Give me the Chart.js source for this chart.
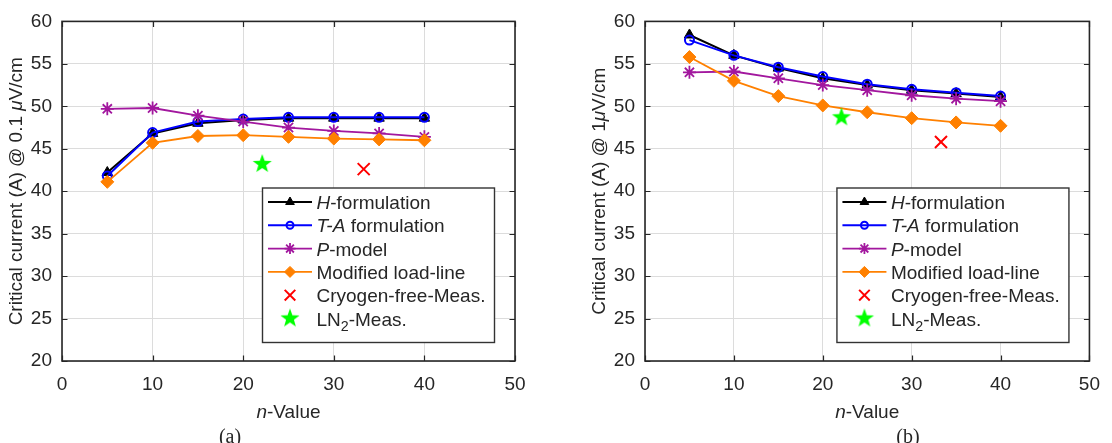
<!DOCTYPE html>
<html><head><meta charset="utf-8">
<script src="https://cdn.jsdelivr.net/npm/chart.js@4.4.0/dist/chart.umd.min.js"></script>
<style>
html,body{margin:0;padding:0;background:#fff;}
#wrap{position:relative;width:1112px;height:443px;overflow:hidden;}
canvas{position:absolute;top:0;}
</style></head><body>
<div id="wrap">
<canvas id="c1" width="556" height="443" style="left:0;width:556px;height:443px"></canvas>
<canvas id="c2" width="556" height="443" style="left:556px;width:556px;height:443px"></canvas>
</div>
<script>
// ---------- data ----------
const nValues = [5, 10, 15, 20, 25, 30, 35, 40];
const xTicks = [0, 10, 20, 30, 40, 50];
const yTicks = [20, 25, 30, 35, 40, 45, 50, 55, 60];

// (a) @ 0.1 uV/cm
const hFormA  = [42.2, 46.8, 48.0, 48.4, 48.6, 48.6, 48.6, 48.6];
const taFormA = [41.8, 46.9, 48.2, 48.5, 48.7, 48.7, 48.7, 48.7];
const pModelA = [49.7, 49.8, 48.9, 48.2, 47.5, 47.1, 46.8, 46.4];
const loadLineA = [41.1, 45.7, 46.5, 46.6, 46.4, 46.2, 46.1, 46.0];
const cryoNA = [33.3], cryoIcA = [42.6];
const ln2NA = [22.1], ln2IcA = [43.2];

// (b) @ 1 uV/cm
const hFormB  = [58.4, 56.0, 54.5, 53.3, 52.5, 51.9, 51.5, 51.1];
const taFormB = [57.8, 56.0, 54.6, 53.5, 52.6, 52.0, 51.6, 51.2];
const pModelB = [54.0, 54.1, 53.3, 52.5, 51.9, 51.3, 50.9, 50.6];
const loadLineB = [55.8, 53.0, 51.2, 50.1, 49.3, 48.6, 48.1, 47.7];
const cryoNB = [33.3], cryoIcB = [45.8];
const ln2NB = [22.1], ln2IcB = [48.7];

const legendLabels = [
  [{t:'H', i:true}, {t:'-formulation'}],
  [{t:'T-A', i:true}, {t:' formulation'}],
  [{t:'P', i:true}, {t:'-model'}],
  [{t:'Modified load-line'}],
  [{t:'Cryogen-free-Meas.'}],
  [{t:'LN'}, {t:'2', sub:true}, {t:'-Meas.'}]
];

// ---------- styling ----------
const FONT = '"Liberation Sans", Arial, Helvetica, sans-serif';
const FS = 19;
const TXT = '#262626';
const PURPLE = '#a2179e';
const ORANGE = '#ff8000';

function makeStar(R, r, color) {
  const s = Math.ceil(2 * R + 2);
  const c = document.createElement('canvas');
  c.width = s; c.height = s;
  const g = c.getContext('2d');
  g.fillStyle = color;
  g.beginPath();
  for (let i = 0; i < 10; i++) {
    const a = -Math.PI / 2 + i * Math.PI / 5;
    const rr = i % 2 ? r : R;
    g.lineTo(s / 2 + rr * Math.cos(a), s / 2 + rr * Math.sin(a));
  }
  g.closePath(); g.fill();
  return c;
}
const starImg = makeStar(10, 4.1, '#00ff00');
const starImgSmall = makeStar(10, 4.1, '#00ff00');

const styles = [
  {borderColor:'#000', backgroundColor:'#000', pointBackgroundColor:'#000', pointBorderColor:'#000',
   pointStyle:'triangle', pointRadius:6, pointBorderWidth:1, borderWidth:2, order:6, lg:{r:5}},
  {borderColor:'#0000ff', backgroundColor:'rgba(0,0,0,0)', pointBackgroundColor:'rgba(0,0,0,0)', pointBorderColor:'#0000ff',
   pointStyle:'circle', pointRadius:4.5, pointBorderWidth:2, borderWidth:2, order:5, lg:{r:3.5}},
  {borderColor:PURPLE, backgroundColor:PURPLE, pointBackgroundColor:PURPLE, pointBorderColor:PURPLE,
   pointStyle:'star', pointRadius:6.5, pointBorderWidth:1.8, borderWidth:1.8, order:4, lg:{r:5.5}},
  {borderColor:ORANGE, backgroundColor:ORANGE, pointBackgroundColor:ORANGE, pointBorderColor:ORANGE,
   pointStyle:'rectRot', pointRadius:6.5, pointBorderWidth:1, borderWidth:1.8, order:3, lg:{r:5.5}},
  {borderColor:'#ff0000', backgroundColor:'#ff0000', pointBackgroundColor:'#ff0000', pointBorderColor:'#ff0000',
   pointStyle:'crossRot', pointRadius:8.5, pointBorderWidth:2, borderWidth:0, showLine:false, order:2, lg:{r:7.5}, noLine:true},
  {borderColor:'#00ff00', backgroundColor:'#00ff00', pointBackgroundColor:'#00ff00', pointBorderColor:'#00ff00',
   pointStyle:starImg, pointRadius:10, pointBorderWidth:0, borderWidth:0, showLine:false, order:1, lg:{r:10, img:starImgSmall}, noLine:true}
];

function pts(xs, ys) { return xs.map((x, i) => ({x: x, y: ys[i]})); }

function fontStr(italic, size) { return (italic ? 'italic ' : '') + size + 'px ' + FONT; }

function richWidth(ctx, parts, size) {
  let w = 0;
  parts.forEach(p => { ctx.font = fontStr(p.i, p.sub ? size * 0.75 : size); w += ctx.measureText(p.t).width; });
  return w;
}
function drawRich(ctx, parts, x, y, size, align) {
  const w = richWidth(ctx, parts, size);
  let cx = align === 'center' ? x - w / 2 : x;
  ctx.textAlign = 'left';
  ctx.textBaseline = 'alphabetic';
  parts.forEach(p => {
    const s = p.sub ? size * 0.75 : size;
    ctx.font = fontStr(p.i, s);
    ctx.fillText(p.t, cx, y + (p.sub ? size * 0.3 : 0));
    cx += ctx.measureText(p.t).width;
  });
}

function makeDecor(cfg) {
  return {
    id: 'decor',
    afterDraw(chart) {
      const ctx = chart.ctx;
      const a = chart.chartArea;
      const xs = chart.scales.x, ys = chart.scales.y;
      ctx.save();
      ctx.fillStyle = TXT;
      ctx.strokeStyle = TXT;
      // inward ticks
      ctx.lineWidth = 1.2;
      const TL = 5.5;
      ctx.beginPath();
      xTicks.forEach(v => {
        const px = Math.round(xs.getPixelForValue(v)) + 0.5;
        ctx.moveTo(px, a.bottom); ctx.lineTo(px, a.bottom - TL);
        ctx.moveTo(px, a.top); ctx.lineTo(px, a.top + TL);
      });
      yTicks.forEach(v => {
        const py = Math.round(ys.getPixelForValue(v)) + 0.5;
        ctx.moveTo(a.left, py); ctx.lineTo(a.left + TL, py);
        ctx.moveTo(a.right, py); ctx.lineTo(a.right - TL, py);
      });
      ctx.stroke();
      // box
      ctx.lineWidth = 1.6;
      ctx.strokeRect(a.left, a.top, a.right - a.left, a.bottom - a.top);

      // y title
      ctx.save();
      ctx.translate(cfg.yTitleX, (a.top + a.bottom) / 2);
      ctx.rotate(-Math.PI / 2);
      drawRich(ctx, cfg.yTitle, 0, 0, FS, 'center');
      ctx.restore();
      // x title
      drawRich(ctx, [{t:'n', i:true}, {t:'-Value'}], (a.left + a.right) / 2, 418, FS, 'center');
      // panel label
      ctx.font = '20px "Liberation Serif", "Times New Roman", serif';
      ctx.textAlign = 'center';
      ctx.textBaseline = 'alphabetic';
      ctx.fillText(cfg.panel, cfg.panelX, 443);

      // legend
      const bw = 232, bh = 154.5;
      const bx = a.right - 20.5 - bw, by = a.bottom - 18.5 - bh;
      ctx.fillStyle = '#fff';
      ctx.fillRect(bx, by, bw, bh);
      ctx.lineWidth = 1.4;
      ctx.strokeStyle = '#333';
      ctx.strokeRect(bx, by, bw, bh);
      const ds = chart.data.datasets;
      for (let k = 0; k < ds.length; k++) {
        const d = ds[k];
        const st = styles[k];
        const cy = by + 14 + k * 23.3;
        if (!st.noLine) {
          ctx.strokeStyle = d.borderColor;
          ctx.lineWidth = d.borderWidth;
          ctx.beginPath();
          ctx.moveTo(bx + 5.5, cy); ctx.lineTo(bx + 49.5, cy);
          ctx.stroke();
        }
        ctx.fillStyle = d.pointBackgroundColor;
        ctx.strokeStyle = d.pointBorderColor;
        ctx.lineWidth = d.pointBorderWidth;
        Chart.helpers.drawPoint(ctx, {
          pointStyle: st.lg.img || d.pointStyle,
          radius: st.lg.r,
          rotation: 0,
          borderWidth: d.pointBorderWidth
        }, bx + 27.5, cy);
        ctx.fillStyle = TXT;
        drawRich(ctx, legendLabels[k], bx + 54, cy + 7, FS, 'left');
      }
      ctx.restore();
    }
  };
}

Chart.defaults.font.family = FONT;
Chart.defaults.font.size = FS;
Chart.defaults.color = TXT;

function build(id, series, cfg) {
  const datasets = [
    Object.assign({label:'H-formulation', data: pts(nValues, series.h)}, styles[0]),
    Object.assign({label:'T-A formulation', data: pts(nValues, series.ta)}, styles[1]),
    Object.assign({label:'P-model', data: pts(nValues, series.p)}, styles[2]),
    Object.assign({label:'Modified load-line', data: pts(nValues, series.ll)}, styles[3]),
    Object.assign({label:'Cryogen-free-Meas.', data: pts(series.cn, series.ci)}, styles[4]),
    Object.assign({label:'LN2-Meas.', data: pts(series.ln, series.li)}, styles[5])
  ];
  datasets.forEach(d => { delete d.lg; delete d.noLine; d.tension = 0; d.fill = false; });
  return new Chart(document.getElementById(id), {
    type: 'line',
    data: { datasets },
    options: {
      responsive: false,
      animation: false,
      devicePixelRatio: 1,
      layout: { padding: { left: 0, right: cfg.padRight, top: 11, bottom: 0 } },
      plugins: { legend: { display: false }, tooltip: { enabled: false } },
      scales: {
        x: {
          type: 'linear', min: 0, max: 50,
          afterFit: s => { s.height = 82; },
          afterBuildTicks: s => { s.ticks = xTicks.map(v => ({value: v})); },
          ticks: { padding: 12, color: TXT, font: { size: FS }, maxRotation: 0, autoSkip: false },
          grid: { color: '#dcdcdc', lineWidth: 1, drawTicks: false },
          border: { display: false }
        },
        y: {
          type: 'linear', min: 20, max: 60,
          afterFit: s => { s.width = cfg.yWidth; },
          afterBuildTicks: s => { s.ticks = yTicks.map(v => ({value: v})); },
          ticks: { padding: 10, color: TXT, font: { size: FS } },
          grid: { color: '#dcdcdc', lineWidth: 1, drawTicks: false },
          border: { display: false }
        }
      }
    },
    plugins: [makeDecor(cfg)]
  });
}

build('c1', {h: hFormA, ta: taFormA, p: pModelA, ll: loadLineA, cn: cryoNA, ci: cryoIcA, ln: ln2NA, li: ln2IcA},
  {padRight: 41, yWidth: 62, yTitleX: 22,
   yTitle: [{t:'Critical current (A) @ 0.1 '}, {t:'μ', i:true}, {t:'V/cm'}],
   panel: '(a)', panelX: 230});
build('c2', {h: hFormB, ta: taFormB, p: pModelB, ll: loadLineB, cn: cryoNB, ci: cryoIcB, ln: ln2NB, li: ln2IcB},
  {padRight: 15, yWidth: 89, yTitleX: 49,
   yTitle: [{t:'Critical current (A) @ 1'}, {t:'μ', i:true}, {t:'V/cm'}],
   panel: '(b)', panelX: 352});
</script>
</body></html>
